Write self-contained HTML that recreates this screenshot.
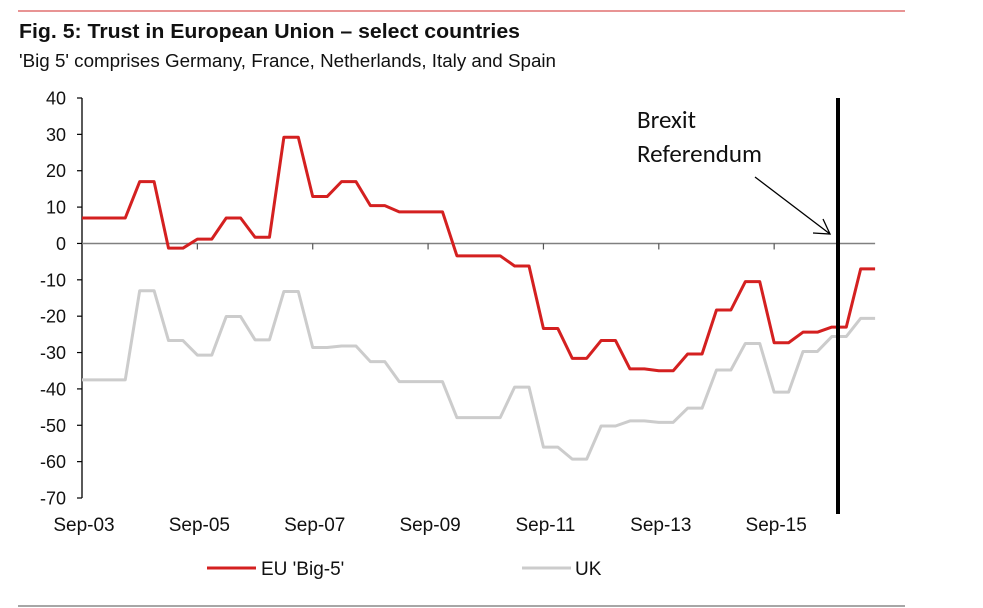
<!DOCTYPE html>
<html><head><meta charset="utf-8"><style>
body{margin:0;background:#fff;width:983px;height:608px;overflow:hidden;font-family:"Liberation Sans",Arial,sans-serif}
svg{display:block}
</style></head><body>
<svg width="983" height="608" xmlns="http://www.w3.org/2000/svg">
<line x1="18" y1="11" x2="905" y2="11" stroke="#e07070" stroke-width="1.5"/>
<text x="19" y="38" font-size="20.5" font-weight="bold" fill="#111" textLength="501" lengthAdjust="spacingAndGlyphs">Fig. 5: Trust in European Union – select countries</text>
<text x="19" y="67" font-size="18.5" fill="#111" textLength="537" lengthAdjust="spacingAndGlyphs">'Big 5' comprises Germany, France, Netherlands, Italy and Spain</text>
<g id="axes"></g>
<g id="series"></g>
<line x1="838" y1="98" x2="838" y2="514" stroke="#000" stroke-width="4"/>
<text x="637" y="128" font-size="25" fill="#111" font-family="Carlito,'Liberation Sans',sans-serif">Brexit</text>
<text x="637" y="162" font-size="25" fill="#111" font-family="Carlito,'Liberation Sans',sans-serif">Referendum</text>
<g stroke="#000" stroke-width="1.3" fill="none">
<line x1="755" y1="177" x2="830" y2="234"/>
<polyline points="823,219 830,234 813,233"/>
</g>
<line x1="207" y1="568" x2="256" y2="568" stroke="#d42020" stroke-width="3"/>
<text x="261" y="575" font-size="19" fill="#111">EU 'Big-5'</text>
<line x1="522" y1="568" x2="571" y2="568" stroke="#cccccc" stroke-width="3"/>
<text x="575" y="575" font-size="19" fill="#111">UK</text>
<line x1="18" y1="606" x2="905" y2="606" stroke="#888" stroke-width="1.5"/>
</svg>
<script>
const yTicks=[40,30,20,10,0,-10,-20,-30,-40,-50,-60,-70];
const xTickLabels=["Sep-03","Sep-05","Sep-07","Sep-09","Sep-11","Sep-13","Sep-15"];
const euBig5=[7,7,7,7,17,17,-1.3,-1.3,1.2,1.2,7,7,1.7,1.7,29.2,29.2,12.9,12.9,17,17,10.4,10.4,8.7,8.7,8.7,8.7,-3.4,-3.4,-3.4,-3.4,-6.2,-6.2,-23.4,-23.4,-31.6,-31.6,-26.7,-26.7,-34.5,-34.5,-35,-35,-30.4,-30.4,-18.3,-18.3,-10.5,-10.5,-27.3,-27.3,-24.4,-24.4,-23,-23,-7,-7];
const uk=[-37.5,-37.5,-37.5,-37.5,-13,-13,-26.7,-26.7,-30.7,-30.7,-20.1,-20.1,-26.5,-26.5,-13.2,-13.2,-28.6,-28.6,-28.2,-28.2,-32.5,-32.5,-38,-38,-38,-38,-47.9,-47.9,-47.9,-47.9,-39.5,-39.5,-56,-56,-59.3,-59.3,-50.2,-50.2,-48.8,-48.8,-49.2,-49.2,-45.3,-45.3,-34.8,-34.8,-27.5,-27.5,-40.9,-40.9,-29.7,-29.7,-25.6,-25.6,-20.6,-20.6];
const NS="http://www.w3.org/2000/svg";
const X0=82,DX=14.42,Y40=98,Y_70=498;
function xs(i){return X0+i*DX;}
function ys(v){return Y40+(40-v)*(Y_70-Y40)/110;}
function mk(tag,attrs,parent){const e=document.createElementNS(NS,tag);for(const k in attrs)e.setAttribute(k,attrs[k]);parent.appendChild(e);return e;}
const axes=document.getElementById('axes');
const ya=mk('line',{x1:X0,y1:ys(40),x2:X0,y2:ys(-70),stroke:'#000','stroke-width':1.3},axes);


yTicks.forEach(v=>{
 const t=mk('line',{x1:X0-5,y1:ys(v),x2:X0,y2:ys(v),stroke:'#000','stroke-width':1.2},axes);
 
 
 const l=mk('text',{x:66,y:ys(v)+6.5,'font-size':18,'text-anchor':'end',fill:'#111'},axes);
 l.textContent=v;
 
 
});
const zl=mk('line',{x1:X0,y1:ys(0),x2:xs(euBig5.length-1),y2:ys(0),stroke:'#808080','stroke-width':1.5},axes);


xTickLabels.forEach((s,k)=>{
 const x=xs(k*8);
 if(k>0){const t=mk('line',{x1:x,y1:ys(0),x2:x,y2:ys(0)+6,stroke:'#555','stroke-width':1.2},axes);
 
 }
 const l=mk('text',{x:x+2,y:531,'font-size':19,'text-anchor':'middle',fill:'#111'},axes);
 l.textContent=s;
 
 
});
const g=document.getElementById('series');
function line(arr,col,name){
 const p=mk('polyline',{points:arr.map((v,i)=>xs(i)+','+ys(v)).join(' '),fill:'none',stroke:col,'stroke-width':3,'stroke-linejoin':'round'},g);
 
 
}
line(uk,'#cccccc','uk-line');
line(euBig5,'#d42020','eu-big5-line');
</script>
</body></html>
